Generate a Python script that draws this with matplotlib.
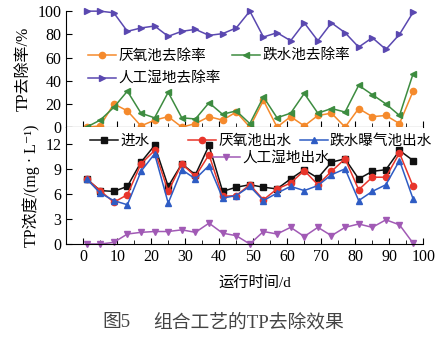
import matplotlib
matplotlib.use("Agg")
import matplotlib.pyplot as plt
from matplotlib.legend import Legend

plt.rcParams['font.family'] = ['Liberation Serif', 'Noto Sans CJK SC', 'DejaVu Serif']
plt.rcParams['axes.unicode_minus'] = False

# Data
days = [1, 5, 9, 13, 17, 21, 25, 29, 33, 37, 41, 45, 49,
        53, 57, 61, 65, 69, 73, 77, 81, 85, 89, 93, 97]

# removal rates, %
rate_anaerobic = [0, 1, 20, 14, 1, 6, 9, 0, 3, 9, 6, 13, 0,
                  23, 0, 9, 1, 10, 12, 0, 16, 9, 10, 3, 31]
rate_drop = [0, 6, 17, 31, 12, 8, 30, 8, 7, 21, 11, 14, 3,
             26, 8, 12, 29, 12, 16, 13, 36, 28, 20, 10, 46]
rate_wetland = [100, 100, 98.6, 82.6, 85.5, 87.2, 78.3, 82.6, 84.3, 79.1, 80.6, 85.5, 100,
                77.7, 81.4, 74.5, 89.9, 74.5, 89.9, 81.4, 69, 77.1, 67, 80, 99]

# TP concentration, mg/L
tp_in = [7.8, 6.4, 6.3, 6.9, 9.8, 11.8, 6.9, 9.6, 8.3, 11.8, 6.3, 6.8, 7.1,
         6.8, 6.6, 7.8, 8.9, 7.9, 9.8, 10.2, 7.8, 8.7, 8.9, 11.2, 10.0]
tp_anaerobic = [7.8, 6.4, 5.0, 5.9, 9.6, 11.2, 6.3, 9.6, 8.1, 10.7, 5.7, 5.8, 7.1,
                5.3, 6.6, 7.3, 8.8, 7.1, 8.7, 10.2, 6.5, 8.0, 8.0, 10.9, 6.9]
tp_drop = [7.8, 6.1, 5.2, 4.7, 8.7, 10.8, 4.9, 8.9, 7.8, 9.4, 5.5, 5.8, 6.9,
           5.2, 6.1, 6.9, 6.4, 7.0, 8.3, 9.0, 5.2, 6.3, 7.1, 10.0, 5.4]
tp_wetland = [0, 0, 0.2, 1.2, 1.4, 1.5, 1.5, 1.7, 1.4, 2.5, 1.3, 1.0, 0,
              1.5, 1.2, 2.0, 0.9, 2.0, 1.0, 2.0, 2.4, 2.0, 2.9, 2.3, 0.1]

c_orange = '#f58a2c'
c_green = '#3d8c40'
c_violet = '#5a48b0'
c_black = '#111111'
c_red = '#e8352b'
c_blue = '#2e5cc4'
c_purple = '#a15ab5'

fig = plt.figure(figsize=(4.47, 3.38), dpi=100)
ax1 = fig.add_axes([0.148, 0.624, 0.799, 0.343])
ax2 = fig.add_axes([0.148, 0.278, 0.799, 0.346])

kw = dict(linewidth=1.1, markersize=4.5)
leg_fs = 10.5


def put_legend(ax, handle, x, y):
    # one legend entry, handle starting at (x, y) in axes fraction
    lg = Legend(ax, [handle], [handle.get_label()], frameon=False, fontsize=leg_fs,
                loc='center left', bbox_to_anchor=(x, y),
                handlelength=1.9, handletextpad=0.15,
                borderpad=0, borderaxespad=0, numpoints=1)
    ax.add_artist(lg)


# upper panel: removal rates
l1, = ax1.plot(days, rate_anaerobic, marker='o', color=c_orange, label='厌氧池去除率', **kw)
l2, = ax1.plot(days, rate_drop, marker='<', color=c_green, label='跌水池去除率', **kw)
l3, = ax1.plot(days, rate_wetland, marker='>', color=c_violet, label='人工湿地去除率', **kw)
for a in (l1, l2, l3):
    a.set_clip_on(False)

ax1.set_xlim(-5, 100)
ax1.set_ylim(0, 100)
ax1.set_yticks([0, 20, 40, 60, 80, 100])
ax1.set_xticks(range(0, 101, 10))
ax1.set_xticks(range(5, 100, 10), minor=True)
ax1.tick_params(axis='x', labelbottom=False)
ax1.spines['top'].set_visible(False)
ax1.spines['right'].set_visible(False)
ax1.set_ylabel('TP去除率/%', fontsize=11.5, labelpad=4)

put_legend(ax1, l1, 0.062, 0.612)
put_legend(ax1, l2, 0.465, 0.612)
put_legend(ax1, l3, 0.062, 0.414)

# lower panel: concentrations
m1, = ax2.plot(days, tp_in, marker='s', color=c_black, label='进水', **kw)
m2, = ax2.plot(days, tp_anaerobic, marker='o', color=c_red, label='厌氧池出水', **kw)
m3, = ax2.plot(days, tp_drop, marker='^', color=c_blue, label='跌水曝气池出水', **kw)
m4, = ax2.plot(days, tp_wetland, marker='v', color=c_purple, label='人工湿地出水', **kw)
for a in (m1, m2, m3, m4):
    a.set_clip_on(False)

ax2.set_xlim(-5, 100)
ax2.set_ylim(0, 14)
ax2.set_yticks([0, 3, 6, 9, 12])
ax2.set_xticks(range(0, 101, 10))
ax2.set_xticks(range(5, 100, 10), minor=True)
ax2.spines['top'].set_visible(False)
ax2.spines['right'].set_visible(False)
ax2.set_ylabel('TP浓度/(mg · L⁻¹)', fontsize=11.5, labelpad=4)
ax2.set_xlabel('运行时间/d', fontsize=11)
ax2.xaxis.set_label_coords(0.529, -0.333)
ax2.xaxis.label.set_va('center')

put_legend(ax2, m1, 0.067, 0.88)
put_legend(ax2, m2, 0.342, 0.88)
put_legend(ax2, m3, 0.655, 0.88)
put_legend(ax2, m4, 0.41, 0.735)

for ax in (ax1, ax2):
    ax.tick_params(which='both', direction='in', labelsize=11.5)
    ax.tick_params(which='major', length=4)
    ax.tick_params(which='minor', length=3)

fig.align_ylabels([ax1, ax2])

fig.text(0.230, 0.047, '图5', ha='left', va='center', fontsize=13.5, color='#444444')
fig.text(0.342, 0.047, '组合工艺的TP去除效果', ha='left', va='center',
         fontsize=13.5, color='#444444')

fig.savefig('out.png', dpi=100)
